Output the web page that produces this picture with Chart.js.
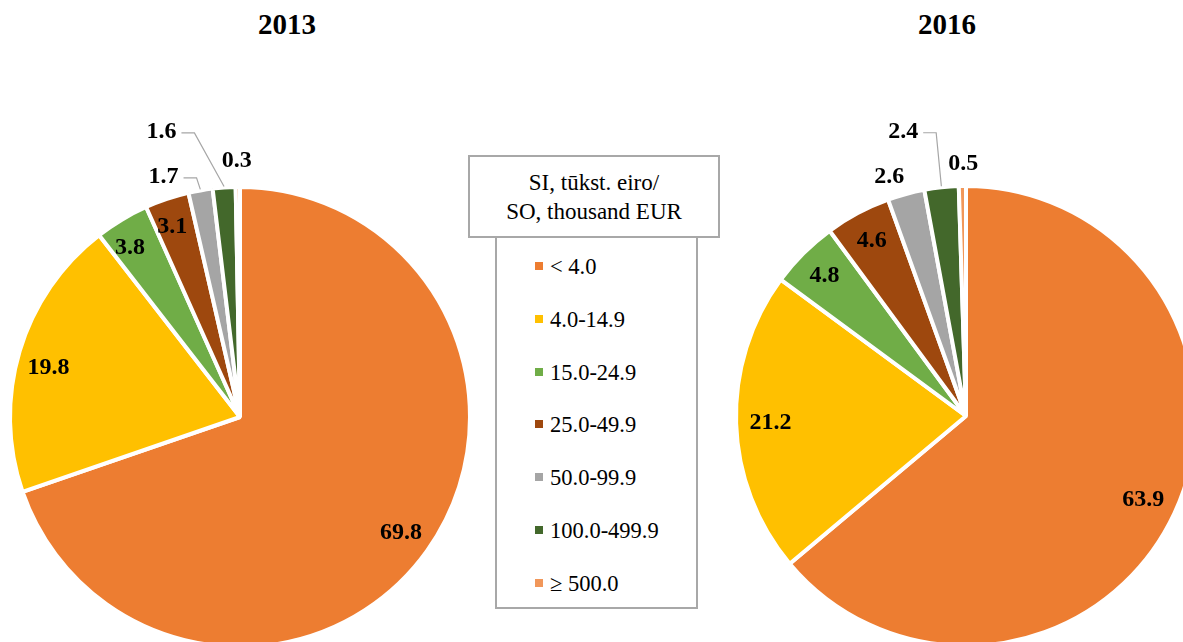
<!DOCTYPE html>
<html>
<head>
<meta charset="utf-8">
<script src="https://cdn.jsdelivr.net/npm/chart.js@4/dist/chart.umd.min.js"></script>
<style>
  html, body { margin: 0; padding: 0; width: 1183px; height: 642px; overflow: hidden; background: #fff; }
  body { position: relative; font-family: "Liberation Serif", "Times New Roman", serif; }
  .title { position: absolute; top: 8px; width: 200px; text-align: center; font-weight: bold; font-size: 29px; color: #000; z-index: 3; }
  canvas.pie { position: absolute; z-index: 1; }
  #legTitle { position: absolute; left: 468px; top: 155px; width: 248px; height: 79px; border: 2px solid #a8a8a8; background: #fff; z-index: 4;
    font-size: 23px; line-height: 29px; text-align: center; display: flex; flex-direction: column; justify-content: center; }
  #legBox { position: absolute; left: 495px; top: 236px; width: 199px; height: 371px; border: 2px solid #a8a8a8; border-top: none; background: #fff; z-index: 2; }
  .item { position: absolute; left: 38px; font-size: 22.5px; line-height: 26px; white-space: nowrap; }
  .item span.sw { display: inline-block; width: 8px; height: 8px; margin-right: 7px; vertical-align: 4px; }
</style>
</head>
<body>
<div class="title" id="t0" style="left:187px"></div>
<div class="title" id="t1" style="left:847px"></div>
<canvas class="pie" id="c0" width="720" height="720"></canvas>
<canvas class="pie" id="c1" width="720" height="720"></canvas>
<div id="legTitle"></div>
<div id="legBox"></div>
<script>
// ---- data ----
const years = ["2013", "2016"];
const categories = ["< 4.0", "4.0-14.9", "15.0-24.9", "25.0-49.9", "50.0-99.9", "100.0-499.9", "\u2265 500.0"];
const values2013 = [69.8, 19.8, 3.8, 3.1, 1.7, 1.6, 0.3];
const values2016 = [63.9, 21.2, 4.8, 4.6, 2.6, 2.4, 0.5];
const legendTitle = ["SI, t\u016bkst. eiro/", "SO, thousand EUR"];
const colors = ["#ED7D31", "#FFC000", "#70AD47", "#9E480E", "#A5A5A5", "#43682B", "#F1975A"];

// ---- layout / styling (not data) ----
const SIZE = 720, R = 230;
const centers = [[240, 417], [966, 416]];
// label placement: radius factor, angle offset (deg) from slice mid, leader line
const place = [
  [{r:0.86,d:0},{r:0.86,d:-2},{r:0.88,d:-2},{r:0.88,d:-1},{r:1.10,d:-7.7,lead:true},{r:1.29,d:-11.4,lead:true},{r:1.12,d:-0.2}],
  [{r:0.85,d:0},{r:0.85,d:0},{r:0.87,d:0},{r:0.87,d:0},{r:1.097,d:-2.6},{r:1.27,d:-6.3,lead:true},{r:1.10,d:0.3}]
];

const labelPlugin = {
  id: 'sliceLabels',
  afterDatasetsDraw(chart) {
    const ctx = chart.ctx;
    const ci = chart.options.plugins.sliceLabels.idx;
    const meta = chart.getDatasetMeta(0);
    const vals = chart.data.datasets[0].data;
    ctx.save();
    ctx.font = 'bold 24px "Liberation Serif", "Times New Roman", serif';
    ctx.textAlign = 'center';
    ctx.textBaseline = 'middle';
    meta.data.forEach((arc, i) => {
      const p = place[ci][i];
      const mid = (arc.startAngle + arc.endAngle) / 2;
      const a = mid + p.d * Math.PI / 180;
      const rr = arc.outerRadius * p.r;
      const lx = arc.x + Math.cos(a) * rr;
      const ly = arc.y + Math.sin(a) * rr;
      const txt = vals[i].toFixed(1);
      ctx.fillStyle = '#000';
      ctx.fillText(txt, lx, ly + 1);
      if (p.lead) {
        const w = ctx.measureText(txt).width;
        const sx = lx + w / 2 + 5, ex = sx + 13;
        const tx = arc.x + Math.cos(mid) * (arc.outerRadius + 1);
        const ty = arc.y + Math.sin(mid) * (arc.outerRadius + 1);
        ctx.strokeStyle = '#a6a6a6';
        ctx.lineWidth = 1.2;
        ctx.beginPath();
        ctx.moveTo(sx, ly + 2);
        ctx.lineTo(ex, ly + 2);
        ctx.lineTo(tx, ty);
        ctx.stroke();
      }
    });
    ctx.restore();
  }
};

[values2013, values2016].forEach((vals, k) => {
  document.getElementById('t' + k).textContent = years[k];
  const cv = document.getElementById('c' + k);
  cv.style.left = (centers[k][0] - SIZE / 2) + 'px';
  cv.style.top = (centers[k][1] - SIZE / 2) + 'px';
  new Chart(cv, {
    type: 'pie',
    data: {
      labels: categories,
      datasets: [{ data: vals, backgroundColor: colors, borderColor: '#ffffff', borderWidth: 4, radius: R }]
    },
    options: {
      responsive: false,
      animation: false,
      layout: { padding: 0 },
      plugins: { legend: { display: false }, tooltip: { enabled: false }, sliceLabels: { idx: k } }
    },
    plugins: [labelPlugin]
  });
});

// legend built from arrays
document.getElementById('legTitle').innerHTML = legendTitle.map(s => '<div>' + s + '</div>').join('');
const box = document.getElementById('legBox');
categories.forEach((c, i) => {
  const d = document.createElement('div');
  d.className = 'item';
  d.style.top = (18 + i * 52.8) + 'px';
  d.innerHTML = '<span class="sw" style="background:' + colors[i] + '"></span>' + c;
  box.appendChild(d);
});
</script>
</body>
</html>
